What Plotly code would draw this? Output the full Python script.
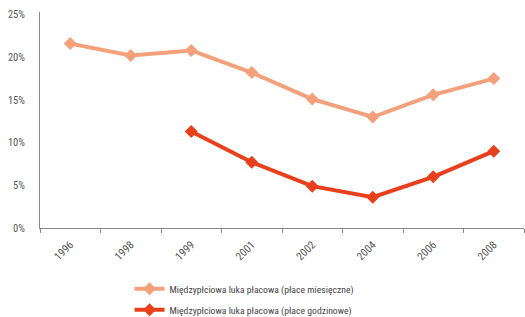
import plotly.graph_objects as go

years = ["1996", "1998", "1999", "2001", "2002", "2004", "2006", "2008"]
monthly = [21.6, 20.2, 20.8, 18.2, 15.1, 13.0, 15.6, 17.5]
hourly = [None, None, 11.3, 7.7, 4.9, 3.6, 6.0, 9.0]
y_ticks = [0, 5, 10, 15, 20, 25]
y_labels = ["0%", "5%", "10%", "15%", "20%", "25%"]

FONT = "Liberation Sans Narrow, Roboto Condensed, Arial Narrow, sans-serif"

fig = go.Figure()
fig.add_trace(go.Scatter(
    x=years, y=monthly, mode="lines+markers",
    name="Międzypłciowa luka płacowa (płace miesięczne)", legendgroup="a",
    line=dict(color="#F4A07A", width=4),
    marker=dict(symbol="diamond", size=10, color="#F4A07A"),
))
fig.add_trace(go.Scatter(
    x=years, y=hourly, mode="lines+markers",
    name="Międzypłciowa luka płacowa (płace godzinowe)", legendgroup="b",
    line=dict(color="#E8401C", width=4),
    marker=dict(symbol="diamond", size=10, color="#E8401C"),
))

fig.update_layout(
    width=525, height=327,
    margin=dict(l=40, r=1, t=12, b=99),
    paper_bgcolor="white", plot_bgcolor="white",
    font=dict(family=FONT, size=10, color="#555555"),
    showlegend=True,
    legend=dict(orientation="v", x=0.185, y=-0.446, xanchor="left", yanchor="bottom",
                font=dict(size=9.7, color="#444444"), traceorder="grouped",
                tracegroupgap=2, itemwidth=30, bgcolor="rgba(0,0,0,0)"),
)
fig.update_xaxes(
    type="category", categoryorder="array", categoryarray=years,
    showline=True, linecolor="#888888", linewidth=1,
    ticks="outside", tickson="boundaries", ticklen=4, tickcolor="#888888",
    tickangle=-45, tickfont=dict(size=11, color="#555555"), ticklabelstandoff=5,
    showgrid=False, zeroline=False, range=[-0.5, 7.5], automargin=False,
)
fig.update_yaxes(
    range=[0, 25.3], tickvals=y_ticks, ticktext=y_labels,
    showline=True, linecolor="#888888", linewidth=1,
    showgrid=False, zeroline=False, ticks="",
    ticklabelstandoff=12, tickfont=dict(size=10.5, color="#555555"),
    automargin=False,
)

fig.write_html("out.html", config={"displayModeBar": False},
               post_script="document.body.style.margin='0';document.body.style.overflow='hidden';")
